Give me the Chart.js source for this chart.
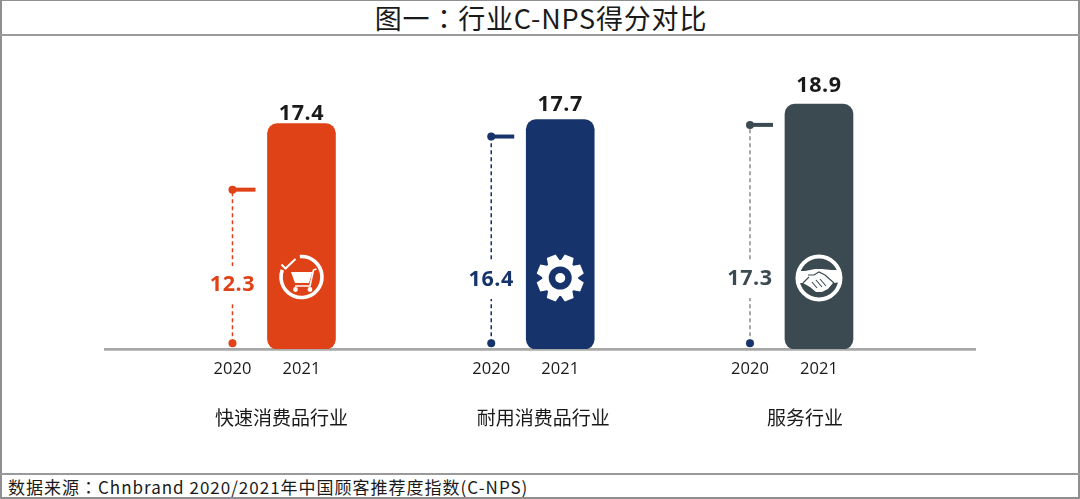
<!DOCTYPE html>
<html>
<head>
<meta charset="utf-8">
<script src="https://cdn.jsdelivr.net/npm/chart.js@4"></script>
<style>
  html, body { margin: 0; padding: 0; background: #fff; }
  body { width: 1080px; height: 499px; position: relative; overflow: hidden; font-family: "Noto Sans CJK SC", "Open Sans", sans-serif; color: #1a1a1a; }
  #frame { position: absolute; left: 0; top: 0; width: 1076px; height: 496px; border: 2px solid #8f8f8f; border-top-width: 1px; }
  #title { position: absolute; left: 0; top: 1px; width: 1082px; height: 33px; line-height: 33px; text-align: center; font-size: 27px; letter-spacing: 0.8px; border-bottom: 2px solid #9a9a9a; }
  #source { position: absolute; left: 8px; top: 475px; font-size: 17px; line-height: 23px; letter-spacing: 1px; white-space: nowrap; }
  #line2 { position: absolute; left: 0; top: 473px; width: 1080px; height: 2px; background: #9a9a9a; }
  .tc { font-family: "Noto Sans CJK TC", sans-serif; }
  canvas { position: absolute; left: 0; top: 36px; }
</style>
</head>
<body>
<div id="frame"></div>
<div id="title">图一<span class="tc">&#xFF1A;</span>行业C-NPS得分对比</div>
<canvas id="chart" width="1080" height="437"></canvas>
<div id="line2"></div>
<div id="source">数据来源<span class="tc">&#xFF1A;</span>Chnbrand 2020/2021年中国顾客推荐度指数(C-NPS)</div>
<script>
const categories = ["快速消费品行业", "耐用消费品行业", "服务行业"];
const years = ["2020", "2021"];
const values2020 = [12.3, 16.4, 17.3];
const values2021 = [17.4, 17.7, 18.9];

const colors = ["#E04218", "#17336B", "#3B4A50"];
const dashColors = ["#E04218", "#17336B", "#8c8c8c"];
const floorDotColors = ["#E04218", "#17336B", "#17336B"];

// the x axis is a row of slots, 2020 and 2021 of each group sit on some of them
const slotCount = 51, firstSlot = 7, groupStep = 15, yearStep = 4;
const slot2020 = categories.map((_, i) => firstSlot + i * groupStep);
const slot2021 = slot2020.map(s => s + yearStep);

const slotKeys = Array.from({ length: slotCount }, (_, s) => "slot" + s);
const slotLabels = new Array(slotCount).fill("");
slot2020.forEach(s => slotLabels[s] = years[0]);
slot2021.forEach(s => slotLabels[s] = years[1]);

const barData = new Array(slotCount).fill(null);
const barColors = new Array(slotCount).fill(colors[0]);
slot2021.forEach((s, i) => {
  barData[s] = values2021[i];
  barColors[s] = colors[i];
});

const dropFloor = 0.45;
const dropDatasets = categories.map((c, i) => ({
  type: "line",
  label: c + " " + years[0],
  data: [
    { x: slotKeys[slot2020[i]], y: dropFloor },
    { x: slotKeys[slot2020[i]], y: values2020[i] }
  ],
  borderColor: dashColors[i],
  borderWidth: 1.5,
  borderDash: [4, 3],
  pointRadius: 4,
  pointHoverRadius: 4,
  pointBorderWidth: 0,
  pointBackgroundColor: [floorDotColors[i], colors[i]]
}));

const font = '"Open Sans", "Noto Sans CJK SC", sans-serif';
const cjkFont = '"Noto Sans CJK SC", sans-serif';

const barLabelGap = [10, 15, 18];
const oldLabelLift = [64, 69, 70];
const iconLift = [72, 71, 71];
const groupLabelShift = [-20, -17, -14];

function drawCart(ctx) {
  ctx.lineWidth = 3.6;
  ctx.lineCap = "butt";
  ctx.beginPath();
  ctx.arc(0, 0, 20.5, -1.65, 3.5);
  ctx.stroke();
  ctx.lineWidth = 2;
  ctx.beginPath();
  ctx.moveTo(-20, -12.5); ctx.lineTo(-16, -8.5); ctx.lineTo(-6, -18);
  ctx.stroke();
  ctx.beginPath();
  ctx.moveTo(-10.5, -5); ctx.lineTo(11, -5); ctx.lineTo(7.5, 6); ctx.lineTo(-6.5, 6);
  ctx.closePath();
  ctx.fill();
  ctx.lineWidth = 1.6;
  ctx.beginPath();
  ctx.moveTo(-6.5, 9); ctx.lineTo(8.5, 9); ctx.lineTo(12, -7); ctx.lineTo(15, -8);
  ctx.stroke();
  ctx.beginPath();
  ctx.arc(-6, 12.5, 2.4, 0, Math.PI * 2);
  ctx.arc(8.5, 12.5, 2.4, 0, Math.PI * 2);
  ctx.fill();
}

function drawGear(ctx, bg) {
  const teeth = 8;
  ctx.beginPath();
  for (let t = 0; t < teeth; t++) {
    const a = (t / teeth) * Math.PI * 2 + Math.PI / 8;
    const w = 0.2, w2 = 0.35;
    [[18, -w2], [24, -w], [24, w], [18, w2]].forEach(p => {
      ctx.lineTo(p[0] * Math.cos(a + p[1]), p[0] * Math.sin(a + p[1]));
    });
  }
  ctx.closePath();
  ctx.fill();
  ctx.fillStyle = bg;
  ctx.beginPath();
  ctx.arc(0, 0, 11.5, 0, Math.PI * 2);
  ctx.fill();
  ctx.fillStyle = "#fff";
  ctx.beginPath();
  ctx.arc(0, 0, 5, 0, Math.PI * 2);
  ctx.fill();
}

function drawHandshake(ctx, bg) {
  ctx.lineWidth = 4;
  ctx.beginPath();
  ctx.arc(0, 0, 21.5, 0, Math.PI * 2);
  ctx.stroke();
  ctx.save();
  ctx.beginPath();
  ctx.arc(0, 0, 22, 0, Math.PI * 2);
  ctx.clip();
  ctx.beginPath();
  [[-24, -7], [-14, -7], [-4, -9], [3, -9], [12, -8], [24, -8], [24, 4], [14, 5], [9, 11], [3, 14], [-3, 14], [-9, 9], [-16, 5], [-24, 5]]
    .forEach(p => ctx.lineTo(p[0], p[1]));
  ctx.closePath();
  ctx.fill();
  ctx.strokeStyle = bg;
  ctx.lineWidth = 1.1;
  ctx.beginPath();
  ctx.moveTo(-11, -3); ctx.lineTo(-5, -3); ctx.lineTo(0, -6); ctx.lineTo(6, -3); ctx.lineTo(15, 5);
  ctx.moveTo(-7, 4); ctx.lineTo(-2, 10);
  ctx.moveTo(-3, 2); ctx.lineTo(3, 9);
  ctx.moveTo(1, 1); ctx.lineTo(7, 8);
  ctx.moveTo(-16, 5); ctx.lineTo(-10, -1);
  ctx.stroke();
  ctx.restore();
}

const iconDrawers = [drawCart, drawGear, drawHandshake];

const baselinePlugin = {
  id: "baseline",
  beforeDatasetsDraw(chart) {
    const { ctx, chartArea, scales } = chart;
    ctx.save();
    ctx.strokeStyle = "#a8a8a8";
    ctx.lineWidth = 2.6;
    ctx.beginPath();
    ctx.moveTo(chartArea.left + 0.9, scales.y.getPixelForValue(0) + 0.4);
    ctx.lineTo(chartArea.right - 6.8, scales.y.getPixelForValue(0) + 0.4);
    ctx.stroke();
    ctx.restore();
  }
};

const markPlugin = {
  id: "marks",
  afterDatasetsDraw(chart) {
    const { ctx, scales } = chart;
    const zero = scales.y.getPixelForValue(0);
    ctx.save();
    ctx.textAlign = "center";
    ctx.textBaseline = "middle";
    categories.forEach((c, i) => {
      const x0 = scales.x.getPixelForValue(slot2020[i]);
      const x1 = scales.x.getPixelForValue(slot2021[i]);
      const y0 = scales.y.getPixelForValue(values2020[i]);
      const y1 = scales.y.getPixelForValue(values2021[i]);

      // short cap to the right of the 2020 dot
      ctx.fillStyle = colors[i];
      ctx.fillRect(x0, y0 - 2, 23, 4);

      // 2020 value, sits on a gap in the dashed line
      ctx.fillStyle = "#fff";
      ctx.fillRect(x0 - 26, zero - oldLabelLift[i] - 19, 52, 38);
      ctx.fillStyle = colors[i];
      ctx.font = "bold 21.5px " + font;
      ctx.letterSpacing = "0.6px";
      ctx.fillText(values2020[i].toFixed(1), x0, zero - oldLabelLift[i]);

      // 2021 value above the bar
      ctx.fillStyle = "#1a1a1a";
      ctx.fillText(values2021[i].toFixed(1), x1, y1 - barLabelGap[i]);
      ctx.letterSpacing = "0px";

      // group name
      ctx.font = "19px " + cjkFont;
      ctx.fillStyle = "#1a1a1a";
      ctx.fillText(c, x1 + groupLabelShift[i], zero + 69);

      // icon in the bar
      ctx.save();
      ctx.translate(x1, zero - iconLift[i]);
      ctx.fillStyle = "#fff";
      ctx.strokeStyle = "#fff";
      iconDrawers[i](ctx, colors[i]);
      ctx.restore();
    });
    ctx.restore();
  }
};

new Chart(document.getElementById("chart"), {
  type: "bar",
  data: {
    labels: slotKeys,
    datasets: [
      {
        label: years[1],
        data: barData,
        backgroundColor: barColors,
        barThickness: 68,
        borderRadius: 10,
        borderSkipped: false
      },
      ...dropDatasets
    ]
  },
  options: {
    responsive: false,
    animation: false,
    layout: { padding: { left: 103.1, right: 97.15, top: 28, bottom: 0 } },
    plugins: { legend: { display: false }, title: { display: false }, tooltip: { enabled: false } },
    scales: {
      x: {
        grid: { display: false, drawTicks: false },
        border: { display: false },
        afterFit(scale) { scale.height = 124; },
        ticks: {
          autoSkip: false,
          maxRotation: 0,
          padding: 10,
          color: "#1a1a1a",
          font: { family: font, size: 16.5 },
          callback: (value, index) => slotLabels[index]
        }
      },
      y: { display: false, min: 0, max: 22 }
    }
  },
  plugins: [baselinePlugin, markPlugin]
});
</script>
</body>
</html>
